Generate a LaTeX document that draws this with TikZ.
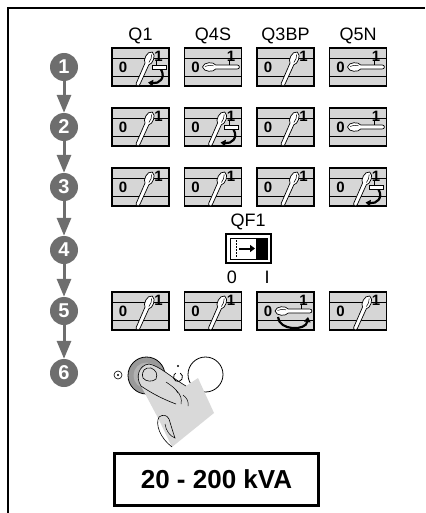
\documentclass[tikz,border=0pt]{standalone}
\usepackage{fontspec}
\setmainfont{Liberation Sans}
\usetikzlibrary{arrows.meta}
\definecolor{stepgray}{HTML}{6E6E6E}
\definecolor{boxgray}{HTML}{D6D6D6}
\definecolor{handgray}{HTML}{D9D9D9}
\definecolor{btngray}{HTML}{9A9A9A}
\definecolor{btninner}{HTML}{B2B2B2}
\tikzset{
  stepcirc/.style={circle, fill=stepgray, minimum size=28pt, inner sep=0pt,
    text=white, font=\bfseries\fontsize{20}{20}\selectfont},
  steparrow/.style={stepgray, line width=3pt, -{Triangle[width=14pt,length=18pt]}},
  collabel/.style={inner sep=0pt, font=\fontsize{18}{18}\selectfont},
  digit/.style={inner sep=0pt, font=\bfseries\fontsize{15}{15}\selectfont},
  turnarrow/.style={line width=2.2pt, -{Triangle[width=6.5pt,length=5pt]}},
  % switch window: origin at its top left corner, y grows downwards
  pics/swframe/.style={code={
    \fill[boxgray] (0,0) rectangle (57,38);
    \draw[line width=0.7pt] (0,10) -- (57,10) (0,28) -- (57,28);
    \draw[line width=1.3pt] (0,0) rectangle (57,38);
    \node[digit] (zero) at (11,19.5) {0};
    \node[digit] (one) at (46.5,8) {1};
  }},
  % handle drawn from its pivot end along +x
  pics/lever/.style={code={
    \draw[fill=white, line width=0.7pt]
      (0,-1.9) -- (22,-2.1) .. controls (23.5,-5.2) and (34,-5.4) .. (35,0)
      .. controls (34,5.4) and (23.5,5.2) .. (22,2.1) -- (0,1.9)
      .. controls (-2.5,1.9) and (-2.5,-1.9) .. (0,-1.9) -- cycle;
    \draw[line width=0.5pt] (24,1.2) .. controls (27,2) and (30,1.8) .. (32.5,0.5);
  }},
  pics/diagsw/.style={code={
    \pic (f) {swframe};
    \pic[rotate=66] at (26,36) {lever};
  }},
  pics/horizsw/.style={code={
    \pic (f) {swframe};
    \draw[line width=0.9pt] (44.5,12) -- (44.5,17.5);
    \pic[rotate=180] at (53,19) {lever};
  }},
  pics/turnsw/.style={code={
    \pic (f) {swframe};
    \draw[line width=0.9pt] (44.5,12) -- (44.5,17);
    \draw[fill=white, line width=0.7pt] (40,17) rectangle (54,21.5);
    \pic[rotate=66] at (26,36) {lever};
    \draw[turnarrow] (49,21.5) .. controls (54,30) and (47,36) .. (36,34.5);
  }},
  pics/backsw/.style={code={
    \pic (f) {swframe};
    \draw[line width=0.9pt] (44.5,12) -- (44.5,17.5);
    \pic[rotate=180] at (53,19) {lever};
    \draw[turnarrow] (21,25) .. controls (22,39) and (49,39) .. (51,25);
  }},
}
\begin{document}
\begin{tikzpicture}[x=1pt,y=-1pt]
\useasboundingbox (0,0) rectangle (425,513);

% frame
\draw[line width=1.2pt] (8,513) -- (8,8) -- (425,8);

% numbered steps and the arrows between them
\foreach \n/\y in {1/67,2/127,3/187,4/250,5/311,6/373}
  \node[stepcirc] (s\n) at (64,\y) {\n};
\foreach \a/\b in {1/2,2/3,3/4,4/5,5/6}
  \draw[steparrow] (s\a.south) -- (s\b.north);

% column headings
\node[collabel] (hq1)  at (140.5,36) {Q1};
\node[collabel] (hq4s) at (213,36) {Q4S};
\node[collabel] (hq3)  at (285.5,36) {Q3BP};
\node[collabel] (hq5)  at (358,36) {Q5N};

% step 1
\pic (r1a) at (112,48)   {turnsw};
\pic (r1b) at (184.5,48) {horizsw};
\pic (r1c) at (257,48)   {diagsw};
\pic (r1d) at (329.5,48) {horizsw};
% step 2
\pic (r2a) at (112,108)   {diagsw};
\pic (r2b) at (184.5,108) {turnsw};
\pic (r2c) at (257,108)   {diagsw};
\pic (r2d) at (329.5,108) {horizsw};
% step 3
\pic (r3a) at (112,168)   {diagsw};
\pic (r3b) at (184.5,168) {diagsw};
\pic (r3c) at (257,168)   {diagsw};
\pic (r3d) at (329.5,168) {turnsw};
% step 5
\pic (r5a) at (112,292)   {diagsw};
\pic (r5b) at (184.5,292) {diagsw};
\pic (r5c) at (257,292)   {backsw};
\pic (r5d) at (329.5,292) {diagsw};

% step 4: circuit breaker QF1
\node[collabel] (qf1) at (248,222) {QF1};
\draw[line width=1.5pt, fill=white] (226,234) rectangle (271,263);
\draw[line width=1pt] (230,238) rectangle (267,259);
\fill (256,238) rectangle (267,259);
\draw[line width=0.8pt, dash pattern=on 1.5pt off 1.5pt] (236,240) -- (236,257);
\draw[line width=2pt, -{Triangle[width=7pt,length=5pt]}] (239,248.5) -- (255,248.5);
\node[collabel] (qf0) at (232,277) {0};
\node[collabel] (qfi) at (267,277) {I};

% step 6: push buttons and hand
\node[circle, draw, line width=0.8pt, fill=btngray, minimum size=37pt, inner sep=0pt] (bon) at (146.5,375.5) {};
\fill[btninner] (bon.center) circle (13pt);
\node[circle, draw, line width=0.8pt, fill=white, minimum size=35pt, inner sep=0pt] (boff) at (205.5,374.5) {};

\fill[handgray] (141,386) .. controls (135,377) and (139,365) .. (149,364)
  .. controls (160,366) and (172,378) .. (186,386)
  -- (198,378) -- (214,413) -- (172,447)
  -- (158,418) -- cycle;
\draw[line width=0.6pt] (141,386) .. controls (135,377) and (139,365) .. (149,364)
  .. controls (160,366) and (172,378) .. (186,386);
\draw[line width=0.6pt] (141,386) .. controls (150,392) and (160,398) .. (176,404);
\draw[line width=0.6pt] (143,378) .. controls (141,371) and (145,367) .. (151,368)
  .. controls (156,370) and (158,374) .. (156,379) .. controls (153,382) and (146,382) .. (143,378);
\draw[line width=0.5pt] (166,382) .. controls (172,386) and (176,389) .. (178,393);
\draw[line width=0.5pt] (176,390) .. controls (181,395) and (182,399) .. (181,404);
\draw[line width=0.5pt] (183,395) .. controls (187,398) and (189,402) .. (188,406);
\draw[line width=0.6pt] (159,417) .. controls (155,424) and (160,438) .. (172,447);
\draw[line width=0.6pt] (159,417) .. controls (163,414) and (167,415) .. (169,419)
  -- (173,432);
\draw[line width=0.5pt] (165,424) .. controls (166,431) and (170,436) .. (175,438) -- (173,432);

% indicator symbols beside the buttons
\node[circle, draw, line width=0.6pt, inner sep=0pt, minimum size=8pt] (lamp) at (118,375) {};
\fill (lamp.center) circle (1.1pt);
\draw[line width=0.8pt] (178,377) ++(60:4.5pt) arc[start angle=60, end angle=-240, radius=4.5pt];
\fill (178,366) circle (1.2pt);

% rated power
\node[draw, line width=3pt, minimum width=204pt, minimum height=52pt, inner sep=0pt,
  font=\bfseries\fontsize{26}{26}\selectfont] (rating) at (216.5,479.5) {20 - 200 kVA};
\end{tikzpicture}
\end{document}
